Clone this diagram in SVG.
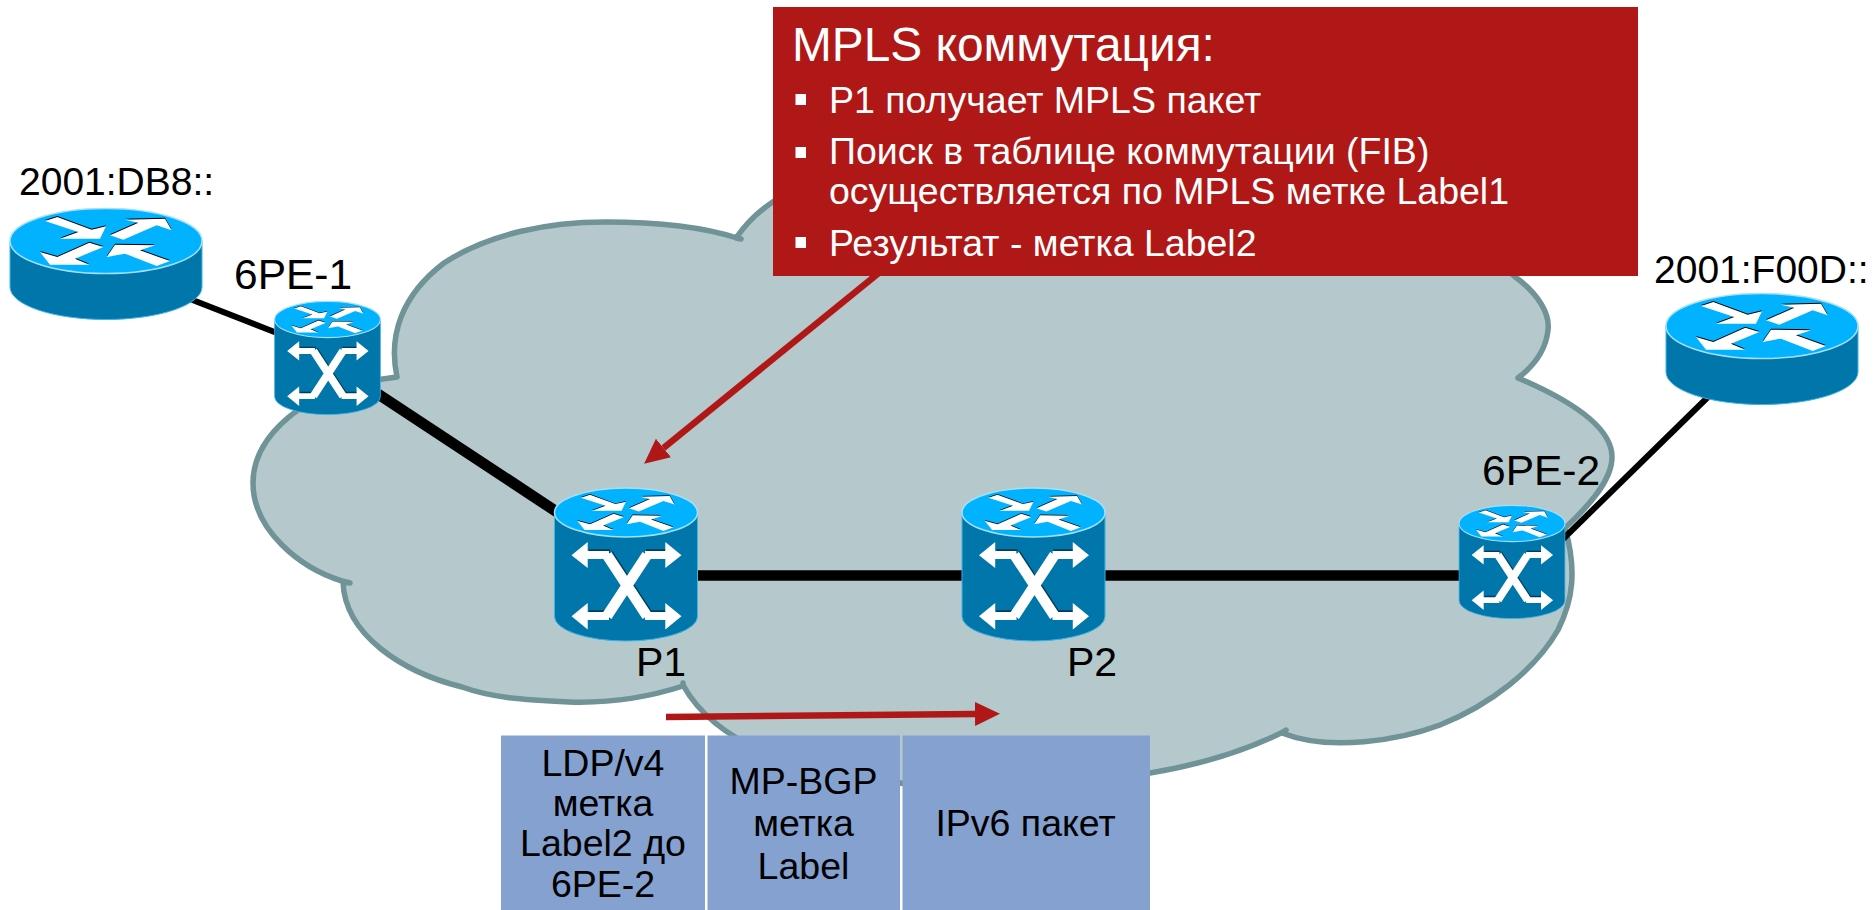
<svg xmlns="http://www.w3.org/2000/svg" width="1876" height="910" viewBox="0 0 1876 910">
<style>
text{font-family:"Liberation Sans",Arial,sans-serif;fill:#000}
.l{font-size:42.5px}.pp{font-size:41px}.a{font-size:39px}.t{font-size:37.5px;text-anchor:middle}
.h{font-size:47.8px}.b{font-size:37.5px}
.body{fill:#0076AA;stroke:#3FB4E6;stroke-width:1}
.top{fill:#00B2FF;stroke:#A5E0F8;stroke-width:1.5}
.link{stroke:#000;fill:none}
.red{stroke:#B01818;stroke-width:6.5;fill:none;marker-end:url(#rh)}
.cell{fill:#84A1D0}
.sq{fill:#fff}
</style>
<defs>
<marker id="rh" markerUnits="userSpaceOnUse" markerWidth="26" markerHeight="26" refX="0" refY="12" orient="auto" viewBox="0 0 26 24"><path d="M0,0L25,12L0,24Z" fill="#B01818"/></marker>
<g id="arr"><path d="M-183,-60L-146,-72L-43,-34L0,-44L-18,-7L-138,-7L-83,-27Z M12,-17L97,-55L57,-64L177,-67L197,-32L152,-47L52,-4Z M-50,5L-146,48L-198,33L-168,71L-50,71L-93,53L-8,18Z M27,11L147,13L102,28L192,60L152,75L57,38L2,48Z"/></g>
<g id="ud"><use href="#arr" fill="#000" transform="translate(0,-3)"/><use href="#arr" fill="#fff"/></g>
<g id="xx"><path d="M-40,42.5H-17M19,103.5H41M-40,103.5H-17M19,42.5H41" fill="none" stroke="#fff" stroke-width="8"/><path d="M-19,42.5L21,103.5M-19,103.5L21,42.5" fill="none" stroke="#fff" stroke-width="10.5"/><path d="M-54.5,42.7L-38.3,29.5V55.5ZM55.5,42.7L39.3,29.5V55.5ZM-54.5,103.7L-38.3,90.5V117ZM55.5,103.7L39.3,90.5V117Z" fill="#fff"/></g>
<g id="sw">
<path class="body" d="M-71.5,0V104A71.5,24.5 0 0 0 71.5,104V0Z"/>
<ellipse class="top" cx="0" cy="0" rx="71.5" ry="24.5"/>
<use href="#ud" transform="scale(.2465)"/>
<path d="M-38,41H-17M19,102H40M-38,102H-17M19,41H40M-18,41L22,102M-18,102L22,41" fill="none" stroke="#032a3c" stroke-width="8.5" opacity=".75" transform="translate(1,0)"/>
<use href="#xx"/>
</g>
<g id="rt">
<path class="body" d="M-96,0V46A96,32.5 0 0 0 96,46V0Z"/>
<ellipse class="top" cx="0" cy="0" rx="96" ry="32.5"/>
<use href="#ud" transform="scale(.3333)"/>
</g>
</defs>
<g id="cloud"><path d="M397,377C388,335 402,295 444,263C490,233 550,222 605,222C655,222 700,226 737,238L741,239L736,238C750,218 765,205 785,195L1400,190C1450,220 1490,255 1514,276C1540,295 1550,315 1548,330C1546,350 1535,365 1518,378C1565,398 1612,425 1612,457C1612,480 1590,505 1565,528C1577,570 1573,600 1558,630C1535,670 1490,705 1440,725C1400,740 1330,752 1282,733L1286,730L1281,733C1230,758 1180,768 1150,773C1050,790 900,795 800,765C750,750 705,725 683,685L683,683L683,686C640,700 600,703 569,702C520,700 490,697 462,687C402,672 345,635 343,582L350,583L342,581C300,568 253,530 253,483C253,450 275,425 305,405L340,385Z" fill="#B5C8CB" stroke="#6F9397" stroke-width="5.5" stroke-linejoin="round"/></g>
<g id="connectors">
<path class="link" stroke-width="6" d="M190,299L277,333"/>
<path class="link" stroke-width="11" d="M378,394L557,512"/>
<path class="link" stroke-width="10.5" d="M695,575.5H1461"/>
<path class="link" stroke-width="6" d="M1563,539L1708,397"/>
<path class="red" d="M880,272L663.5,448"/>
<path class="red" d="M666,717L975,714"/>
</g>
<g id="router-left"><use href="#rt" transform="translate(106,241)"/><text class="a" x="19" y="195">2001:DB8::</text></g>
<g id="router-right"><use href="#rt" transform="translate(1762,326)"/><text class="a" x="1654" y="283">2001:F00D::</text></g>
<g id="pe1"><use href="#sw" transform="translate(327.5,319.5) scale(.74)"/><text class="l" x="234" y="289">6PE-1</text></g>
<g id="pe2"><use href="#sw" transform="translate(1512,523.5) scale(.74)"/><text class="l" x="1482" y="485">6PE-2</text></g>
<g id="p1"><use href="#sw" transform="translate(626,512.5)"/><text class="pp" x="636" y="676">P1</text></g>
<g id="p2"><use href="#sw" transform="translate(1033.5,512.5)"/><text class="pp" x="1067" y="676">P2</text></g>
<g id="callout">
<rect x="773" y="7" width="865" height="269" fill="#B01818"/>
<text class="h" x="792" y="61" style="fill:#fff">MPLS коммутация:</text>
<rect class="sq" x="795.5" y="94" width="10.5" height="11"/>
<text class="b" x="829" y="113" style="fill:#fff">P1 получает MPLS пакет</text>
<rect class="sq" x="795.5" y="147" width="10.5" height="11"/>
<text class="b" x="829" y="164" style="fill:#fff">Поиск в таблице коммутации (FIB)</text>
<text class="b" x="829" y="204" style="fill:#fff">осуществляется по MPLS метке Label1</text>
<rect class="sq" x="795.5" y="237" width="10.5" height="11"/>
<text class="b" x="829" y="256" style="fill:#fff">Результат - метка Label2</text>
</g>
<g id="packet">
<rect class="cell" x="501" y="735.5" width="204" height="175"/>
<rect class="cell" x="707.5" y="735.5" width="192.5" height="175"/>
<rect class="cell" x="902.5" y="735.5" width="247.5" height="175"/>
<text class="t" x="603" y="776">LDP/v4</text>
<text class="t" x="603" y="816">метка</text>
<text class="t" x="603" y="856">Label2 до</text>
<text class="t" x="603" y="897">6PE-2</text>
<text class="t" x="803.5" y="794">MP-BGP</text>
<text class="t" x="803.5" y="836">метка</text>
<text class="t" x="803.5" y="879">Label</text>
<text class="t" x="1025.5" y="836">IPv6 пакет</text>
</g>
</svg>
